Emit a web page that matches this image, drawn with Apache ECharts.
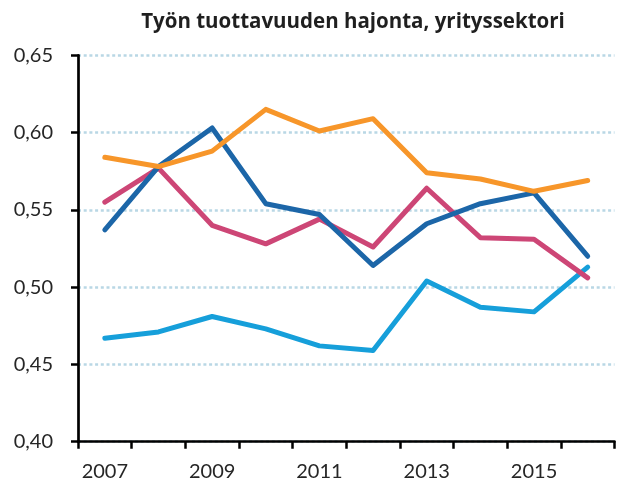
<!DOCTYPE html>
<html>
<head>
<meta charset="utf-8">
<script src="https://cdn.jsdelivr.net/npm/echarts@6/dist/echarts.min.js"></script>
<style>
  html, body { margin: 0; padding: 0; background: #fff; }
  #chart { width: 617px; height: 484px; }
</style>
</head>
<body>
<div id="chart"></div>
<script>
// Työn tuottavuuden hajonta, yrityssektori
const years = ['2007', '2008', '2009', '2010', '2011', '2012', '2013', '2014', '2015', '2016'];
const darkBlue  = [0.537, 0.578, 0.603, 0.554, 0.547, 0.514, 0.541, 0.554, 0.561, 0.520];
const orange    = [0.584, 0.578, 0.588, 0.615, 0.601, 0.609, 0.574, 0.570, 0.562, 0.569];
const pink      = [0.555, 0.577, 0.540, 0.528, 0.544, 0.526, 0.564, 0.532, 0.531, 0.506];
const lightBlue = [0.467, 0.471, 0.481, 0.473, 0.462, 0.459, 0.504, 0.487, 0.484, 0.513];
const yTicks = { min: 0.40, max: 0.65, step: 0.05 };

const chart = echarts.init(document.getElementById('chart'), null, { renderer: 'canvas' });

function line(data, color, z) {
  return {
    type: 'line',
    data: data,
    symbol: 'none',
    z: z,
    lineStyle: { color: color, width: 5, cap: 'round', join: 'round' }
  };
}

chart.setOption({
  animation: false,
  backgroundColor: '#ffffff',
  title: {
    text: 'Työn tuottavuuden hajonta, yrityssektori',
    left: 348,
    top: 7,
    textAlign: 'center',
    textStyle: { fontFamily: 'Open Sans', fontWeight: 'bold', fontSize: 20.5, color: '#1f1f1f' }
  },
  grid: { left: 78, right: 2.5, top: 55.3, bottom: 42.3, containLabel: false },
  xAxis: {
    type: 'category',
    data: years,
    boundaryGap: true,
    axisLine: { show: true, lineStyle: { color: '#000', width: 2.7 } },
    axisTick: { show: true, interval: 0, length: 7, lineStyle: { color: '#000', width: 2.5 } },
    axisLabel: { interval: 1, margin: 20, fontFamily: 'Lato', fontSize: 20, color: '#262626' },
    splitLine: { show: false }
  },
  yAxis: {
    type: 'value',
    min: yTicks.min,
    max: yTicks.max,
    interval: yTicks.step,
    axisLine: { show: true, lineStyle: { color: '#000', width: 2.7 } },
    axisTick: { show: true, length: 7, lineStyle: { color: '#000', width: 2.5 } },
    axisLabel: {
      margin: 25,
      fontFamily: 'Lato',
      fontSize: 20,
      color: '#262626',
      formatter: v => v.toFixed(2).replace('.', ',')
    },
    splitLine: {
      show: true,
      lineStyle: { color: '#b9d7e5', width: 2.5, type: [3, 2.7] }
    }
  },
  series: [
    line(lightBlue, '#169fda', 3),
    line(pink, '#cd4676', 4),
    line(darkBlue, '#1c66a8', 5),
    line(orange, '#f7962a', 6)
  ]
});
</script>
</body>
</html>
